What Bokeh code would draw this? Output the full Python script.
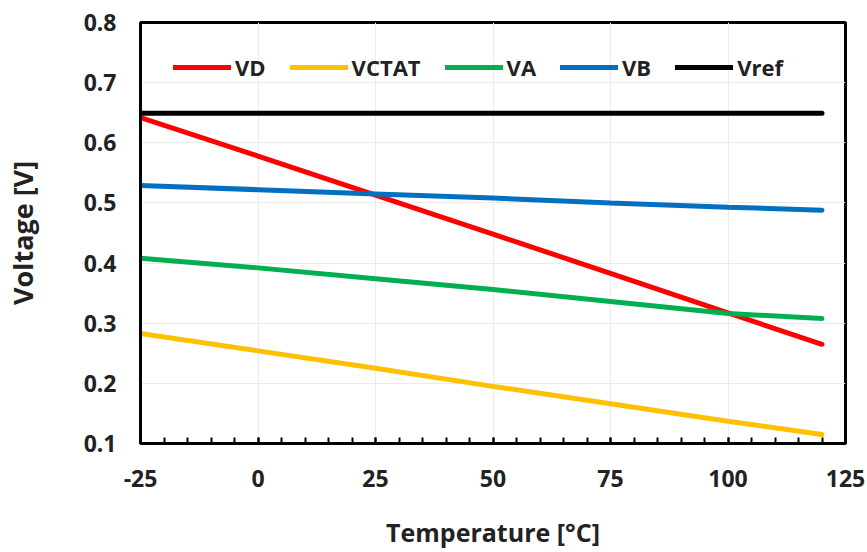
from bokeh.plotting import figure
from bokeh.models import Range1d, SingleIntervalTicker, FixedTicker, PrintfTickFormatter, Legend, LegendItem
from bokeh.embed import file_html
from bokeh.resources import INLINE

temperature = [-25, 0, 25, 50, 75, 100, 120]
vd = [0.642, 0.578, 0.513, 0.448, 0.383, 0.317, 0.265]
vctat = [0.283, 0.254, 0.225, 0.195, 0.166, 0.137, 0.115]
va = [0.408, 0.392, 0.374, 0.356, 0.336, 0.316, 0.308]
vb = [0.529, 0.522, 0.515, 0.508, 0.500, 0.493, 0.488]
vref = [0.649, 0.649, 0.649, 0.649, 0.649, 0.649, 0.649]

series_names = ["VD", "VCTAT", "VA", "VB", "Vref"]
series_values = [vd, vctat, va, vb, vref]
series_colors = ["#ff0000", "#ffc000", "#00b050", "#0070c0", "#000000"]

y_ticks = [0.1, 0.2, 0.3, 0.4, 0.5, 0.6, 0.7, 0.8]

FONT = "Open Sans"

p = figure(width=867, height=552, output_backend="svg", toolbar_location=None,
           x_range=Range1d(-25, 125), y_range=Range1d(0.1, 0.8),
           min_border_left=140, min_border_right=22, min_border_top=22, min_border_bottom=109)
p.background_fill_color = "white"
p.border_fill_color = "white"
p.outline_line_color = "black"
p.outline_line_width = 3

renderers = []
for name, vals, col in zip(series_names, series_values, series_colors):
    r = p.line(temperature, vals, line_color=col, line_width=5, line_cap="round")
    renderers.append((name, r))

# axes
p.xaxis.ticker = SingleIntervalTicker(interval=25, num_minor_ticks=5)
p.xaxis.formatter = PrintfTickFormatter(format="%d")
p.yaxis.ticker = FixedTicker(ticks=y_ticks)
p.yaxis.formatter = PrintfTickFormatter(format="%.1f")
for ax in (p.xaxis, p.yaxis):
    ax.axis_line_width = 3
    ax.axis_line_color = "black"
    ax.major_label_text_font = FONT
    ax.major_label_text_font_style = "bold"
    ax.major_label_text_font_size = "23px"
    ax.major_label_text_color = "#222222"
    ax.axis_label_text_font = FONT
    ax.axis_label_text_font_style = "bold"
    ax.axis_label_text_font_size = "25px"
    ax.axis_label_text_color = "#222222"
p.xaxis.major_tick_in = 6
p.xaxis.major_tick_out = 0
p.xaxis.minor_tick_in = 6
p.xaxis.minor_tick_out = 0
p.xaxis.major_tick_line_width = 2
p.xaxis.minor_tick_line_width = 2
p.xaxis.major_label_standoff = 26
p.xaxis.axis_label = "Temperature [°C]"
p.xaxis.axis_label_standoff = 25
p.yaxis.major_tick_in = 0
p.yaxis.major_tick_out = 0
p.yaxis.minor_tick_in = 0
p.yaxis.minor_tick_out = 0
p.yaxis.major_label_standoff = 24
p.yaxis.axis_label = "Voltage [V]"
p.yaxis.axis_label_text_font_size = "27px"
p.yaxis.axis_label_standoff = 40

p.xgrid.grid_line_color = "#ebebeb"
p.ygrid.grid_line_color = "#ebebeb"
p.xgrid.grid_line_width = 1
p.ygrid.grid_line_width = 1

legend = Legend(items=[LegendItem(label=n, renderers=[r]) for n, r in renderers],
                orientation="horizontal", location=(33, 361),
                border_line_color=None, background_fill_alpha=0,
                label_text_font=FONT, label_text_font_style="bold",
                label_text_font_size="22px", label_text_color="#222222",
                glyph_width=58, glyph_height=26, label_height=26,
                label_standoff=4, spacing=24, padding=0, margin=0)
p.add_layout(legend, "center")

open("out.html", "w").write(file_html(p, INLINE))
